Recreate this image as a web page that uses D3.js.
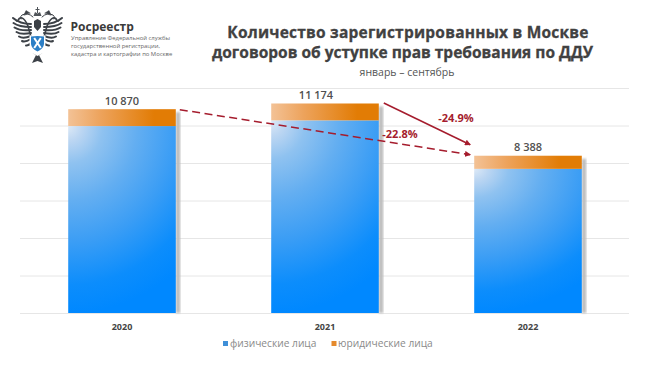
<!DOCTYPE html>
<html><head><meta charset="utf-8"><script src="https://cdnjs.cloudflare.com/ajax/libs/d3/7.8.5/d3.min.js"></script>
<style>html,body{margin:0;padding:0;background:#fff}svg{display:block}text{font-family:"Open Sans",sans-serif}</style></head>
<body><div id="c"></div>
<script>
const years=["2020","2021","2022"];
const totalLabels=["10 870","11 174","8 388"];
const physical=[9970,10274,7688];
const legal=[900,900,700];
const gridTicks=[0,2000,4000,6000,8000,10000,12000];
const legendLabels=["физические лица","юридические лица"];
const titleLines=["Количество зарегистрированных в Москве","договоров об уступке прав требования по ДДУ"];
const subtitle="январь – сентябрь";
const orgName="Росреестр";
const orgLines=["Управление Федеральной службы","государственной регистрации,","кадастра и картографии по Москве"];
const changes=[{from:0,to:2,label:"-22.8%"},{from:1,to:2,label:"-24.9%"}];

const W=650,H=367;
const svg=d3.select("#c").append("svg").attr("width",W).attr("height",H);
const defs=svg.append("defs");
const gb=defs.append("radialGradient").attr("id","gb").attr("cx",0).attr("cy",0).attr("r",1).attr("fx",0).attr("fy",0).attr("gradientTransform","scale(1.6,1)");
[[0,"#dde9f6"],[.08,"#bcd6f2"],[.2,"#8fc2f0"],[.4,"#63aef1"],[.625,"#3a9df5"],[.85,"#0c8dfc"],[1,"#0088ff"]].forEach(s=>gb.append("stop").attr("offset",s[0]).attr("stop-color",s[1]));
const go=defs.append("linearGradient").attr("id","go");
[[0,"#f3c296"],[.3,"#eda35c"],[.8,"#e27c05"],[1,"#e27c05"]].forEach(s=>go.append("stop").attr("offset",s[0]).attr("stop-color",s[1]));
const fs=defs.append("filter").attr("id","blur");fs.append("feGaussianBlur").attr("stdDeviation",.8);
const mk=defs.append("marker").attr("id","arr").attr("viewBox","0 0 8 8").attr("refX",7).attr("refY",4).attr("markerWidth",6).attr("markerHeight",6).attr("markerUnits","userSpaceOnUse").attr("orient","auto");
mk.append("path").attr("d","M0,0L8,4L0,8Z").attr("fill","#a51c2d");

const x=d3.scaleBand().domain(years).range([20,630]).paddingInner(.47).paddingOuter(.2375);
const y=d3.scaleLinear().domain([0,12000]).range([313,88]);

svg.append("g").selectAll("line").data(gridTicks).join("line")
 .attr("x1",20).attr("x2",629).attr("y1",d=>y(d)+.5).attr("y2",d=>y(d)+.5).attr("stroke","#e6e6e6").attr("stroke-width",1);

const labelShift={"2021":-9};
const bars=svg.append("g").selectAll("g").data(years).join("g");
bars.append("rect").attr("x",d=>x(d)+x.bandwidth()).attr("width",4.5)
 .attr("y",(d,i)=>y(physical[i]+legal[i])+3).attr("height",(d,i)=>y(0)-y(physical[i]+legal[i])-3)
 .attr("fill","#bdbdbd").attr("filter","url(#blur)");
bars.append("rect").attr("x",d=>x(d)).attr("width",x.bandwidth())
 .attr("y",(d,i)=>y(physical[i])).attr("height",(d,i)=>y(0)-y(physical[i])).attr("fill","url(#gb)");
bars.append("rect").attr("x",d=>x(d)).attr("width",x.bandwidth())
 .attr("y",(d,i)=>y(physical[i]+legal[i])).attr("height",(d,i)=>y(physical[i])-y(physical[i]+legal[i])).attr("fill","url(#go)");
bars.append("text").attr("x",d=>x(d)+x.bandwidth()/2+(labelShift[d]||0)).attr("y",(d,i)=>y(physical[i]+legal[i])-4.5)
 .attr("text-anchor","middle").attr("font-size",11).attr("font-weight",600).attr("fill","#4f4f4f").text((d,i)=>totalLabels[i]);
bars.append("text").attr("x",d=>x(d)+x.bandwidth()/2).attr("y",329.5)
 .attr("text-anchor","middle").attr("font-size",9).attr("font-weight",700).attr("fill","#444").text(d=>d);

// change arrows: ends derived from the bars
const barTop=i=>y(physical[i]+legal[i]);
const barRight=i=>x(years[i])+x.bandwidth();
const barLeft=i=>x(years[i]);
svg.append("line").attr("x1",barRight(0)+4).attr("y1",barTop(0)+.5).attr("x2",barLeft(2)-4).attr("y2",barTop(2)-1)
 .attr("stroke","#a51c2d").attr("stroke-width",1.5).attr("stroke-dasharray","8 4.5").attr("marker-end","url(#arr)");
svg.append("line").attr("x1",barRight(1)+5).attr("y1",barTop(1)-.5).attr("x2",barLeft(2)-4).attr("y2",barTop(2)-11)
 .attr("stroke","#a51c2d").attr("stroke-width",1.5).attr("marker-end","url(#arr)");
const lab={"-22.8%":[400,137.5],"-24.9%":[456,122]};
svg.append("g").selectAll("text").data(changes).join("text")
 .attr("x",d=>lab[d.label][0]).attr("y",d=>lab[d.label][1]).attr("text-anchor","middle")
 .attr("font-family","Roboto").attr("font-size",11).attr("font-weight",700).attr("fill","#a51c2d").text(d=>d.label);

// title
const titleX=[408,402.5], titleSpacing=[.22,0];
svg.append("g").selectAll("text").data(titleLines).join("text").attr("x",(d,i)=>titleX[i]).attr("y",(d,i)=>38+i*20)
 .attr("text-anchor","middle").attr("font-size",15.5).attr("font-weight",700).attr("letter-spacing",(d,i)=>titleSpacing[i])
 .attr("fill","#414141").attr("stroke","#414141").attr("stroke-width",.3).text(d=>d);
svg.append("text").attr("x",407).attr("y",76).attr("text-anchor","middle").attr("font-size",10.5).attr("fill","#555").text(subtitle);

// legend
const legSwatch=[223,331.5], legText=[230,338];
legendLabels.forEach((t,i)=>{
 svg.append("rect").attr("x",legSwatch[i]).attr("y",341).attr("width",5).attr("height",5).attr("fill",i?"#e58a2c":"#3f8fd8");
 svg.append("text").attr("x",legText[i]).attr("y",346.5).attr("font-family","Lato").attr("font-size",10.2).attr("fill","#8a8a8a").text(t);
});

// organisation block
svg.append("text").attr("x",70.5).attr("y",30.5).attr("font-family","Inter").attr("font-size",12).attr("font-weight",700).attr("fill","#3a3a3a").text(orgName);
svg.append("g").selectAll("text").data(orgLines).join("text").attr("x",71).attr("y",(d,i)=>40.3+i*7.6)
 .attr("font-size",5.9).attr("fill","#666").text(d=>d);

// emblem: two mirrored halves of feathered wing, neck and head
const ink="#3c4147";
const half=svg.append("g").attr("fill","none").attr("stroke",ink).attr("stroke-linecap","round");
const side=half.append("g").attr("id","side");
const feathers=[
 "M31,24 Q20,24 13,18","M31,27 Q19,27 13.5,23","M31,30 Q20,31 14.5,27.5","M31,33 Q21,35 16.5,32",
 "M31,36 Q23,39 19,36.5","M31,39 Q25,42.5 22,41","M32,42 Q28,46 26,45.5"];
side.selectAll("path.f").data(feathers).join("path").attr("d",d=>d).attr("stroke-width",2);
side.append("path").attr("d","M33,43 Q30,34 28,26 Q25,19 22,18 Q19,17.5 18.5,20 L16.5,21").attr("stroke-width",1.6);
side.append("path").attr("d","M33,17 Q28,12 22,15 Q20,16 21,19").attr("stroke-width",1);
side.append("path").attr("d","M24,15 L26,10.5 L30,13 Z").attr("fill",ink).attr("stroke-width",.5);
svg.append("use").attr("href","#side").attr("transform","translate(75,0) scale(-1,1)").attr("fill","none").attr("stroke",ink).attr("stroke-linecap","round");
const e=svg.append("g");
e.append("path").attr("d","M32,53 L36,55 L32,63 L37.5,61 L43,63 L39,55 L43,53 L37.5,56Z").attr("fill",ink);
e.append("path").attr("d","M34,21 L37.5,19 L41,21 L41,27 L37.5,31 L34,27Z").attr("fill",ink);
e.append("path").attr("d","M33.5,16 L35,12 L37.5,13.5 L40,12 L41.5,16 Z M37,7 h1 v6 h-1Z M35.5,9 h4 v1 h-4Z").attr("fill","#50555a");
e.append("path").attr("d","M29.5,35.5 Q37.5,34 45.5,35.5 L45.5,44 Q45,50 37.5,53 Q30,50 29.5,44Z").attr("fill","#fff");
e.append("path").attr("d","M31,36.5 Q37.5,35.5 44,36.5 L44,44 Q43.5,49 37.5,51.5 Q31.5,49 31,44Z").attr("fill","#2c7fc6");
e.append("path").attr("d","M34.2,38 L40.8,48 M40.8,38 L34.2,48").attr("stroke","#fff").attr("stroke-width",2);
</script></body></html>
